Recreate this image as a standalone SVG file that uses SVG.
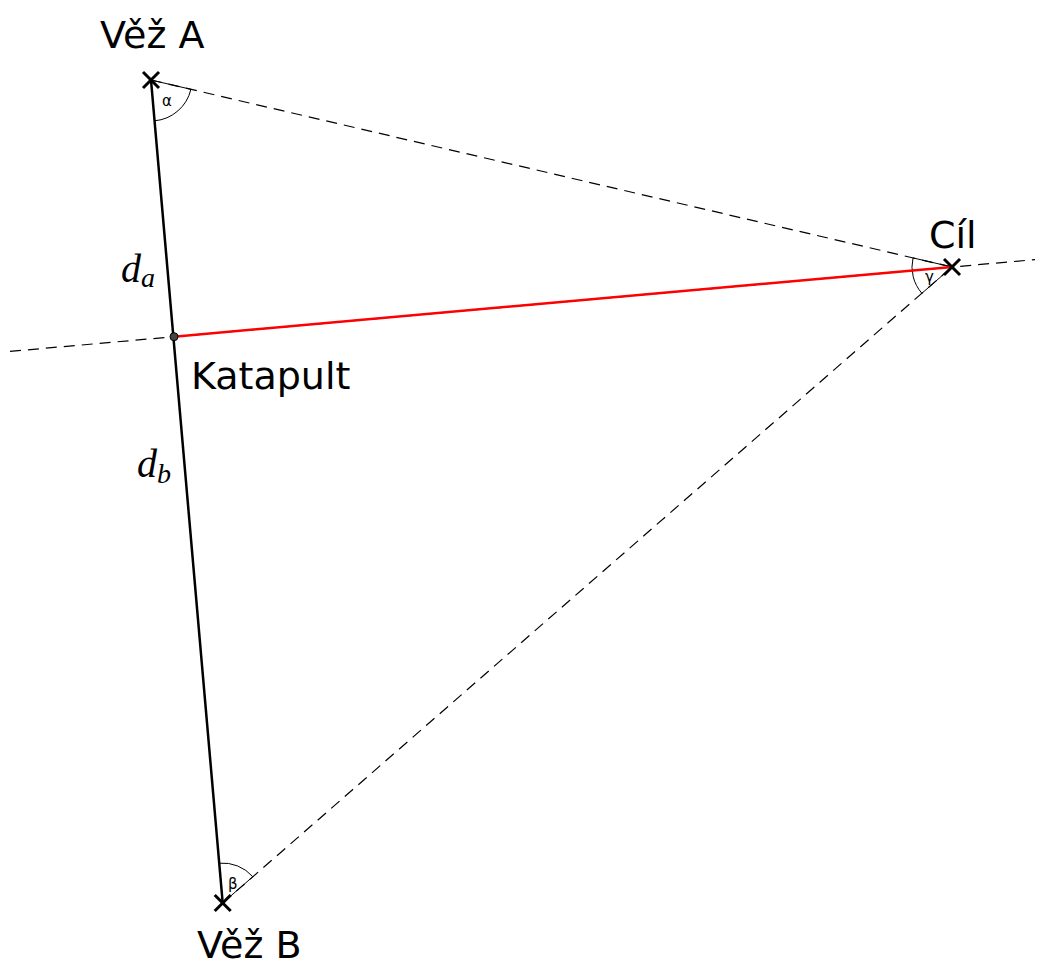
<svg xmlns="http://www.w3.org/2000/svg" width="1040" height="965" viewBox="0 0 1040 965">
<style>
.dash{stroke:#000;stroke-width:1.2;stroke-dasharray:11 7;fill:none}
.sector{stroke:#000;stroke-width:1;fill:none}
.cross{stroke:#000;stroke-width:3;stroke-linecap:butt}
.lbl{font-family:"DejaVu Sans",sans-serif;font-size:38px;fill:#000}
.greek{font-family:"DejaVu Sans",sans-serif;font-size:15px;fill:#000}
.math{font-family:"Liberation Serif",serif;font-style:italic;fill:#000}
</style>
<rect width="1040" height="965" fill="#fff"/>
<g id="connectors">
<line class="dash" x1="151" y1="80" x2="952" y2="267"/>
<line class="dash" x1="222.7" y1="903" x2="952" y2="267"/>
<line class="dash" x1="10" y1="351.4" x2="1035" y2="259.6"/>
<path class="sector" d="M151,80 L190.9,89.3 A41,41 0 0 1 154.6,120.8 Z"/>
<path class="sector" d="M952,267 L921.9,293.3 A40,40 0 0 1 913,257.9 Z"/>
<path class="sector" d="M222.7,903 L219.2,863.2 A40,40 0 0 1 252.8,876.7 Z"/>
<line x1="151" y1="80" x2="222.7" y2="903" stroke="#000" stroke-width="2.5"/>
<line x1="174" y1="336.7" x2="952" y2="267" stroke="#f00" stroke-width="2.5"/>
<text class="math" font-size="40" x="121" y="282">d<tspan font-size="28" dy="5">a</tspan></text>
<text class="math" font-size="40" x="137" y="477">d<tspan font-size="28" dy="6">b</tspan></text>
<text class="greek" x="162" y="106">α</text>
<text class="greek" x="925" y="282">γ</text>
<text class="greek" x="228" y="889">β</text>
</g>
<g id="vez-a">
<line class="cross" x1="143" y1="72" x2="159" y2="88"/>
<line class="cross" x1="159" y1="72" x2="143" y2="88"/>
<text class="lbl" x="100" y="48">Věž A</text>
</g>
<g id="cil">
<line class="cross" x1="944" y1="259" x2="960" y2="275"/>
<line class="cross" x1="960" y1="259" x2="944" y2="275"/>
<text class="lbl" x="929" y="248">Cíl</text>
</g>
<g id="katapult">
<circle cx="174" cy="336.7" r="4" fill="#444" stroke="#000" stroke-width="1"/>
<text class="lbl" x="191" y="389">Katapult</text>
</g>
<g id="vez-b">
<line class="cross" x1="214.7" y1="895" x2="230.7" y2="911"/>
<line class="cross" x1="230.7" y1="895" x2="214.7" y2="911"/>
<text class="lbl" x="197" y="958">Věž B</text>
</g>
</svg>
